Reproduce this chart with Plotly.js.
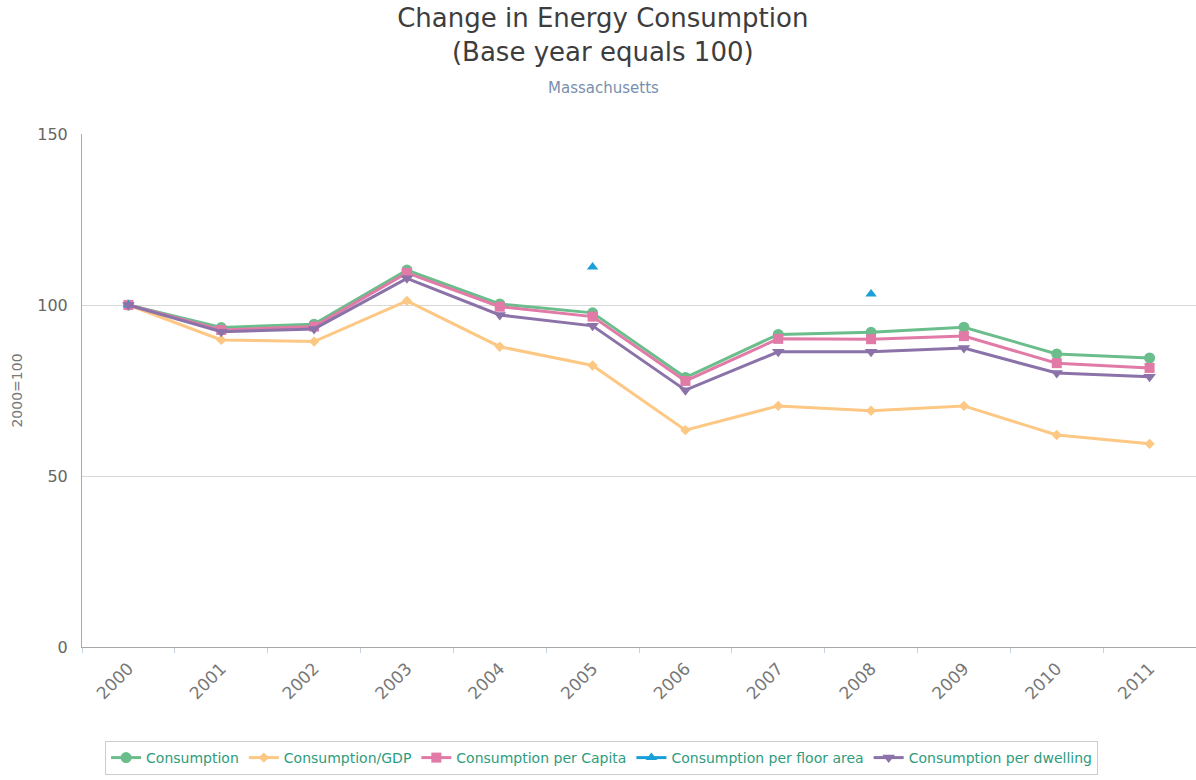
<!DOCTYPE html>
<html>
<head>
<meta charset="utf-8">
<script src="https://cdn.plot.ly/plotly-3.0.1.min.js"></script>
<style>html,body{margin:0;padding:0;background:#fff;}#chart{width:1196px;height:780px;}</style>
</head>
<body>
<div id="chart"></div>
<script>
const years = ["2000","2001","2002","2003","2004","2005","2006","2007","2008","2009","2010","2011"];
const consumption = [100, 93.4, 94.4, 110.2, 100.3, 97.7, 78.8, 91.4, 92.0, 93.5, 85.7, 84.5];
const consumptionGdp = [100, 89.8, 89.3, 101.2, 87.8, 82.3, 63.4, 70.5, 69.1, 70.5, 62.0, 59.4];
const consumptionCapita = [100, 92.7, 93.7, 109.4, 99.5, 96.6, 77.8, 90.1, 90.0, 90.9, 83.0, 81.6];
const consumptionFloor = [100, null, null, null, null, 111.1, null, null, 103.2, null, null, null];
const consumptionDwelling = [100, 92.2, 93.0, 107.8, 97.1, 93.9, 75.1, 86.3, 86.3, 87.4, 80.1, 79.0];

const seriesNames = ["Consumption", "Consumption/GDP", "Consumption per Capita", "Consumption per floor area", "Consumption per dwelling"];
const seriesData = [consumption, consumptionGdp, consumptionCapita, consumptionFloor, consumptionDwelling];
const colors = ["#6bbd8c", "#fdc784", "#e17aa6", "#1aa0d8", "#8b72a8"];
const symbols = ["circle", "diamond", "square", "triangle-up", "triangle-down"];
const sizes = [11, 8, 10, 10, 11];

const traces = seriesData.map((d, i) => ({
  x: years, y: d, name: seriesNames[i], type: "scatter",
  mode: "lines+markers", connectgaps: false,
  line: {color: colors[i], width: 3},
  marker: {color: colors[i], symbol: symbols[i], size: sizes[i]},
  cliponaxis: false
}));

const font = "DejaVu Sans, Verdana, sans-serif";
const layout = {
  width: 1196, height: 780,
  paper_bgcolor: "#fff", plot_bgcolor: "#fff",
  margin: {l: 82, r: 0, t: 134, b: 133},
  font: {family: font, color: "#666"},
  title: {text: "Change in Energy Consumption<br>(Base year equals 100)", font: {family: font, size: 26, color: "#3d3d3d"},
          x: 0.504, xref: "container", xanchor: "center", y: 0.965, yref: "container", yanchor: "top"},
  annotations: [{text: "Massachusetts", xref: "paper", yref: "paper", x: (603 - 82) / 1114, y: (647 - 88) / 513,
                 xanchor: "center", yanchor: "middle", showarrow: false, font: {family: font, size: 15, color: "#7890ad"}}],
  xaxis: {type: "category", range: [-0.5, 11.5], tickson: "boundaries", ticks: "outside", ticklen: 5, tickcolor: "#c8d2dc",
          showgrid: false, showline: true, linecolor: "#aaa", linewidth: 1, tickangle: -45, ticklabelstandoff: 4,
          tickfont: {family: font, size: 17, color: "#777"}, zeroline: false, fixedrange: true},
  yaxis: {range: [0, 150], tickvals: [0, 50, 100, 150], showgrid: true, gridcolor: "#d8d8d8", gridwidth: 1,
          showline: true, linecolor: "#aaa", linewidth: 1, zeroline: false, ticks: "", ticklabelstandoff: 10,
          tickfont: {family: font, size: 16, color: "#666"},
          title: {text: "2000=100", font: {family: font, size: 14, color: "#777"}, standoff: 11}},
  showlegend: true,
  legend: {orientation: "h", xref: "container", yref: "container", x: 0.503, xanchor: "center", y: 1 - 741/780, yanchor: "top",
           bgcolor: "#fff", bordercolor: "#ccc", borderwidth: 1, font: {family: font, size: 14, color: "#2f9c7c"},
           itemwidth: 30, tracegroupgap: 0}
};

Plotly.newPlot("chart", traces, layout, {displayModeBar: false, staticPlot: true});
</script>
</body>
</html>
